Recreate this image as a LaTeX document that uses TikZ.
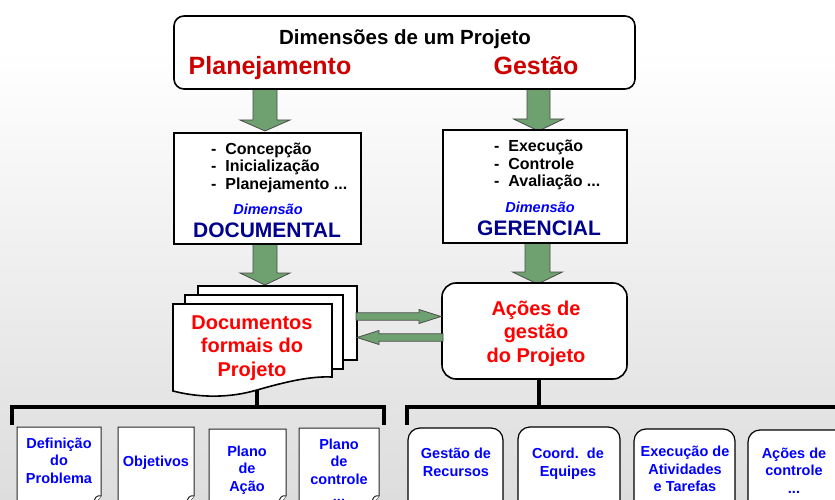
\documentclass[tikz,border=0pt]{standalone}
\usepackage{fontspec}
\setmainfont{Liberation Sans}
\usetikzlibrary{calc}
\definecolor{agreen}{RGB}{111,160,111}
\definecolor{dred}{RGB}{204,0,0}
\definecolor{bred}{RGB}{255,0,0}
\definecolor{navy}{RGB}{0,0,140}
\definecolor{dblue}{RGB}{0,0,255}
\definecolor{bggray}{RGB}{221,221,221}
\tikzset{
  fatarrow/.style n args={3}{fill=agreen, draw=black!70, line width=0.8pt, line join=miter,
    to path={
      ($(\tikztostart)!#1!90:(\tikztotarget)$)
      -- ($($(\tikztotarget)!#3!(\tikztostart)$)!#1!90:(\tikztotarget)$)
      -- ($($(\tikztotarget)!#3!(\tikztostart)$)!#2!90:(\tikztotarget)$)
      -- (\tikztotarget)
      -- ($($(\tikztotarget)!#3!(\tikztostart)$)!#2!-90:(\tikztotarget)$)
      -- ($($(\tikztotarget)!#3!(\tikztostart)$)!#1!-90:(\tikztotarget)$)
      -- ($(\tikztostart)!#1!-90:(\tikztotarget)$) -- cycle}},
  box/.style={draw=black, line width=1.6pt, fill=white, inner sep=0pt},
  pagesh/.style={draw=black, line width=1.6pt, fill=white},
  smalldoc/.style={draw=black!85, line width=1pt, fill=white},
  smallround/.style={draw=black, line width=1.2pt, fill=white, rounded corners=12pt},
  bracket/.style={line width=3.6pt, draw=black},
  txt/.style={inner sep=0pt, anchor=base, align=center},
  lbl/.style={txt, font=\bfseries\fontsize{14.5}{17.5}\selectfont, text=dblue},
  big/.style={txt, font=\bfseries\fontsize{20}{23.5}\selectfont, text=bred},
  lst/.style={inner sep=0pt, anchor=base west, align=left, font=\bfseries\fontsize{16}{17.6}\selectfont},
}
\begin{document}
\begin{tikzpicture}[x=1pt,y=-1pt]
\clip (0,0) rectangle (835,500);
\fill[white] (0,0) rectangle (835,500);
\shade[top color=white, bottom color=bggray] (0,50) rectangle (835,500);

% ---- coordinates for connectors
\coordinate (a1s) at (265,88);   \coordinate (a1e) at (265,131);
\coordinate (a2s) at (538.5,88); \coordinate (a2e) at (538.5,131);
\coordinate (a3s) at (265,243);  \coordinate (a3e) at (265,285);
\coordinate (a4s) at (537.5,242);\coordinate (a4e) at (537.5,284);
\coordinate (h1s) at (356,316.5); \coordinate (h1e) at (441,316.5);
\coordinate (h2s) at (443,337.5); \coordinate (h2e) at (357,337.5);

% ---- green arrows
\draw[fatarrow={12pt}{25pt}{11pt}] (a1s) to (a1e);
\draw[fatarrow={11.5pt}{25pt}{12pt}] (a2s) to (a2e);
\draw[fatarrow={12pt}{25pt}{12pt}] (a3s) to (a3e);
\draw[fatarrow={12.5pt}{25pt}{12pt}] (a4s) to (a4e);

% ---- top box
\node[box, rounded corners=10pt, minimum width=461pt, minimum height=73pt] (top) at (404.5,52.5) {};
\node[txt, font=\bfseries\fontsize{20.5}{24}\selectfont] (ttl) at (405,45) {Dimensões de um Projeto};
\node[txt, font=\bfseries\fontsize{25}{30}\selectfont, text=dred] (plan) at (270,74.5) {Planejamento};
\node[txt, font=\bfseries\fontsize{25}{30}\selectfont, text=dred] (gest) at (536,74.5) {Gestão};

% ---- dimension boxes
\node[box, minimum width=187pt, minimum height=111pt] (lbox) at (267.5,188.5) {};
\node[lst] (llist) at (211,189.3) {-~~Concepção\\-~~Inicialização\\-~~Planejamento ...};
\node[txt, font=\bfseries\itshape\fontsize{14.5}{17}\selectfont, text=dblue] (ldim) at (268,214) {Dimensão};
\node[txt, font=\bfseries\fontsize{21}{25}\selectfont, text=navy] (ldoc) at (267,237.3) {DOCUMENTAL};

\node[box, minimum width=184pt, minimum height=113pt] (rbox) at (535,186.5) {};
\node[lst] (rlist) at (494,186.7) {-~~Execução\\-~~Controle\\-~~Avaliação ...};
\node[txt, font=\bfseries\itshape\fontsize{14.5}{17}\selectfont, text=dblue] (rdim) at (540,212.3) {Dimensão};
\node[txt, font=\bfseries\fontsize{21}{25}\selectfont, text=navy] (rger) at (539,235.7) {GERENCIAL};

% ---- document stack
\draw[pagesh] (198,286) rectangle (357,360);
\draw[pagesh] (185,295) rectangle (343,369);
\draw[pagesh] (173,304) -- (332,304) -- (332,377)
   .. controls (310,376) and (285,382) .. (257,390)
   .. controls (230,398) and (200,398) .. (173,391) -- cycle;
\node[big] (docs) at (252,376) {Documentos\\formais do\\Projeto};
\coordinate (docbot) at (257,390);

% ---- actions box
\node[box, rounded corners=14pt, minimum width=185pt, minimum height=96pt] (act) at (534.5,331) {};
\node[big] (acttxt) at (536,362) {Ações de\\gestão\\do Projeto};

% ---- horizontal arrows
\draw[fatarrow={3.7pt}{7pt}{22pt}] (h1s) to (h1e);
\draw[fatarrow={3.7pt}{7pt}{22pt}] (h2s) to (h2e);

% ---- brackets
\coordinate (lstem) at (257,407);
\coordinate (rstem) at (539,407);
\draw[bracket] (docbot) -- (lstem);
\draw[bracket] (act.south -| rstem) -- (rstem);
\draw[bracket] (12,425) -- (12,407) -- (384,407) -- (384,425);
\draw[bracket] (407,425) -- (407,407) -- (840,407);

% ---- bottom document boxes
\foreach \xa/\xb/\ya in {17/101/427, 118/194/427, 209/286/429, 299/379/428}{
  \draw[smalldoc] (\xa,\ya) -- (\xb,\ya) -- (\xb,496) -- (\xb-8,506) -- (\xa,506) -- cycle;
  \draw[smalldoc, fill=white] (\xb,496) .. controls (\xb-4,495) and (\xb-7,497) .. (\xb-8,506);
}
\node[lbl] (b1) at (59,483.3) {Definição\\do\\Problema};
\node[lbl] (b2) at (156,466) {Objetivos};
\node[lbl] (b3) at (247,491) {Plano\\de\\Ação};
\node[lbl] (b4) at (339,501.5) {Plano\\de\\controle\\...};

% ---- bottom rounded boxes
\draw[smallround] (408,428) rectangle (503,520);
\draw[smallround] (518,427) rectangle (620,520);
\draw[smallround] (634,429) rectangle (735,520);
\draw[smallround] (748,430) rectangle (850,520);
\node[lbl] (g1) at (456,476) {Gestão de\\Recursos};
\node[lbl] (g2) at (568,476) {Coord.~~de\\Equipes};
\node[lbl] (g3) at (685,491.5) {Execução de\\Atividades\\e Tarefas};
\node[lbl] (g4) at (794,493) {Ações de\\controle\\...};
\end{tikzpicture}
\end{document}
